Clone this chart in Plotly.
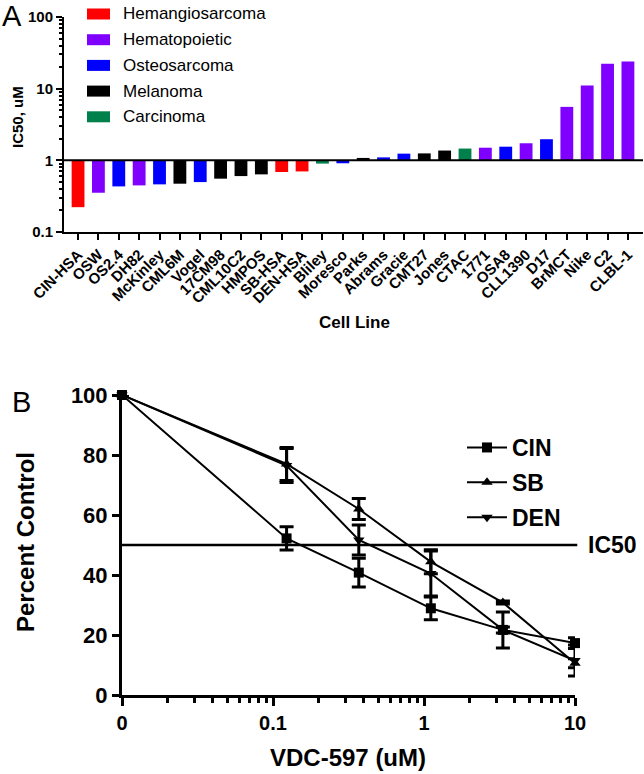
import plotly.graph_objects as go

# ---------------- Panel A data ----------------
cell_lines = ["CIN-HSA", "OSW", "OS2.4", "DH82", "McKinley", "CML6M", "Vogel", "17CM98",
              "CML10C2", "HMPOS", "SB-HSA", "DEN-HSA", "Bliley", "Moresco", "Parks", "Abrams",
              "Gracie", "CMT27", "Jones", "CTAC", "1771", "OSA8", "CLL1390", "D17", "BrMCT",
              "Nike", "C2", "CLBL-1"]
ic50_um = [0.222, 0.353, 0.433, 0.447, 0.462, 0.472, 0.497, 0.555,
           0.603, 0.637, 0.687, 0.70, 0.90, 0.91, 1.08, 1.10,
           1.24, 1.25, 1.37, 1.46, 1.50, 1.55, 1.73, 1.97, 5.57,
           11.1, 22.2, 24.0]
tumor_type = ["Hemangiosarcoma", "Hematopoietic", "Osteosarcoma", "Hematopoietic", "Osteosarcoma",
              "Melanoma", "Osteosarcoma", "Melanoma", "Melanoma", "Melanoma", "Hemangiosarcoma",
              "Hemangiosarcoma", "Carcinoma", "Osteosarcoma", "Melanoma", "Osteosarcoma",
              "Osteosarcoma", "Melanoma", "Melanoma", "Carcinoma", "Hematopoietic", "Osteosarcoma",
              "Hematopoietic", "Osteosarcoma", "Hematopoietic", "Hematopoietic", "Hematopoietic",
              "Hematopoietic"]
type_names = ["Hemangiosarcoma", "Hematopoietic", "Osteosarcoma", "Melanoma", "Carcinoma"]
type_colors = ["#FF0000", "#8000FF", "#0000FF", "#000000", "#00804A"]
a_yticks = [0.1, 1, 10, 100]
a_yticktext = ["0.1", "1", "10", "100"]

# ---------------- Panel B data ----------------
dose_um = [0, 0.123, 0.37, 1.11, 3.33, 10]
b_series = ["CIN", "SB", "DEN"]
cin_pct = [100, 52.2, 40.8, 28.9, 21.7, 17.3]
cin_err = [0, 3.9, 4.8, 3.8, 6.0, 1.8]
sb_pct = [100, 77.0, 62.0, 44.4, 30.8, 10.6]
sb_err = [0, 5.5, 3.5, 4.0, 0.5, 1.5]
den_pct = [100, 76.5, 51.7, 40.5, 21.7, 11.5]
den_err = [0, 5.7, 5.0, 7.5, 1.0, 5.2]
b_symbols = ["square", "triangle-up", "triangle-down"]
b_xtickvals = [0.01, 0.1, 1, 10]
b_xticktext = ["0", "0.1", "1", "10"]
ic50_level = 50

W, H = 644, 774
FONT = "Liberation Sans, Arial, sans-serif"


def px(x):
    return x / W


def py(y):
    return 1 - y / H


fig = go.Figure()

# Panel A bars, one trace per tumour type
for name, color in zip(type_names, type_colors):
    xs = [c for c, t in zip(cell_lines, tumor_type) if t == name]
    vs = [v for v, t in zip(ic50_um, tumor_type) if t == name]
    fig.add_trace(go.Bar(
        x=xs, y=[v - 1 for v in vs], base=1, name=name,
        marker=dict(color=color, line=dict(width=0)), width=0.63,
        xaxis="x", yaxis="y", showlegend=False,
        hovertemplate="%{x}: %{customdata}<extra></extra>", customdata=vs,
    ))

# Panel B lines
plot_dose = [d if d > 0 else 0.01 for d in dose_um]
for name, vals, errs, sym in zip(b_series, [cin_pct, sb_pct, den_pct],
                                 [cin_err, sb_err, den_err], b_symbols):
    fig.add_trace(go.Scatter(
        x=plot_dose, y=vals, name=name, mode="lines+markers",
        line=dict(color="black", width=2),
        marker=dict(symbol=sym, size=10, color="black"),
        error_y=dict(type="data", array=errs, visible=True, color="black", thickness=3, width=7),
        xaxis="x2", yaxis="y2", legend="legend2", cliponaxis=False, legendgroup=name,
    ))

minor_a = [m * 10 ** e for e in (-1, 0, 1) for m in range(2, 10)]
minor_b = [m * 10 ** e for e in (-2, -1, 0) for m in range(2, 10)]

fig.update_layout(
    width=W, height=H, margin=dict(l=0, r=0, t=0, b=0, autoexpand=False),
    paper_bgcolor="white", plot_bgcolor="white",
    barmode="overlay", font=dict(family=FONT, color="black"),
    xaxis=dict(domain=[px(64), px(643)], anchor="y", type="category", automargin=False,
               categoryorder="array", categoryarray=cell_lines,
               range=[-0.69, 27.74], showline=True, linecolor="black", linewidth=2,
               ticks="outside", ticklen=6, tickwidth=2, tickcolor="black",
               tickangle=-45, tickfont=dict(size=15, weight="bold"),
               showgrid=False, zeroline=False),
    yaxis=dict(domain=[py(232), py(17)], anchor="x", type="log", range=[-1, 2], automargin=False,
               tickvals=a_yticks, ticktext=a_yticktext, showline=True, linecolor="black",
               linewidth=2, ticks="outside", ticklen=6, tickwidth=2, tickcolor="black",
               tickfont=dict(size=15, weight="bold"), showgrid=False, zeroline=False,
               minor=dict(tickvals=minor_a, ticks="outside", ticklen=3, tickwidth=1.5,
                          tickcolor="black", showgrid=False)),
    xaxis2=dict(domain=[px(122), px(575)], anchor="y2", type="log", range=[-2, 1.0],
                automargin=False,
                tickvals=b_xtickvals, ticktext=b_xticktext, showline=True, linecolor="black",
                linewidth=3, ticks="outside", ticklen=8, tickwidth=3, tickcolor="black",
                tickfont=dict(size=20, weight="bold"), showgrid=False, zeroline=False,
                minor=dict(tickvals=minor_b, ticks="outside", ticklen=5, tickwidth=3,
                           tickcolor="black", showgrid=False)),
    yaxis2=dict(domain=[py(695), py(395)], anchor="x2", range=[0, 100], dtick=20,
                automargin=False,
                showline=True, linecolor="black", linewidth=3, ticks="outside", ticklen=7,
                tickwidth=3, tickcolor="black", tickfont=dict(size=22, weight="bold"),
                showgrid=False, zeroline=False),
    legend2=dict(x=px(462), y=py(426), xanchor="left", yanchor="top",
                 font=dict(size=23, weight="bold"), bgcolor="rgba(0,0,0,0)",
                 tracegroupgap=2, itemwidth=40),
)

shapes = [
    dict(type="line", xref="x domain", yref="y", x0=0, x1=1, y0=1, y1=1,
         line=dict(color="black", width=2)),
    dict(type="line", xref="x2 domain", yref="y2", x0=0, x1=1.005, y0=ic50_level, y1=ic50_level,
         line=dict(color="black", width=2.5)),
]
annotations = []
# manual legend for panel A
for i, (name, color) in enumerate(zip(type_names, type_colors)):
    yc = 14 + i * 25.7
    shapes.append(dict(type="rect", xref="paper", yref="paper", x0=px(87), x1=px(110),
                       y0=py(yc - 5.5), y1=py(yc + 5.5), fillcolor=color, line=dict(width=0)))
    annotations.append(dict(text=name, x=px(121), y=py(yc), xref="paper", yref="paper",
                            xanchor="left", yanchor="middle", showarrow=False,
                            font=dict(size=17, color="black")))

annotations += [
    dict(text="A", x=px(0), y=py(16), xanchor="left", yanchor="middle", font=dict(size=29)),
    dict(text="B", x=px(10), y=py(402), xanchor="left", yanchor="middle", font=dict(size=29)),
    dict(text="IC50, uM", x=px(17), y=py(117), textangle=-90, xanchor="center", yanchor="middle",
         font=dict(size=15, weight="bold")),
    dict(text="Cell Line", x=px(354), y=py(323), xanchor="center", yanchor="middle",
         font=dict(size=17, weight="bold")),
    dict(text="Percent Control", x=px(25), y=py(542), textangle=-90, xanchor="center",
         yanchor="middle", font=dict(size=24, weight="bold")),
    dict(text="VDC-597 (uM)", x=px(348), y=py(757), xanchor="center", yanchor="middle",
         font=dict(size=24, weight="bold")),
    dict(text="IC50", x=px(586), y=py(545), xanchor="left", yanchor="middle",
         font=dict(size=23, weight="bold")),
]
for a in annotations:
    a.setdefault("xref", "paper")
    a.setdefault("yref", "paper")
    a["showarrow"] = False

fig.update_layout(shapes=shapes, annotations=annotations)
fig.write_html("out.html", config={"displayModeBar": False},
               post_script="document.body.style.margin='0px';document.body.style.padding='0px';")
